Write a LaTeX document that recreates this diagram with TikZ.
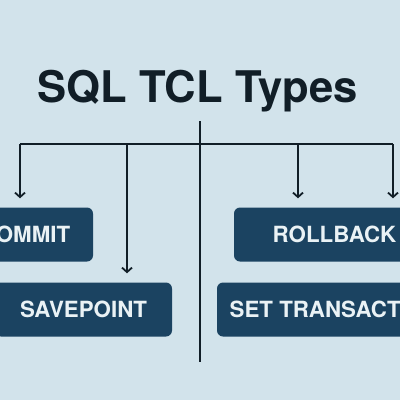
\documentclass[tikz,border=0pt]{standalone}
\usepackage{fontspec}
\setmainfont{TeX Gyre Heros}
\usetikzlibrary{arrows.meta}
\definecolor{bgc}{HTML}{D2E3EB}
\definecolor{boxc}{HTML}{1B4361}
\definecolor{linec}{HTML}{111E27}
\definecolor{txtc}{HTML}{EAF2F5}
\tikzset{
  tclbox/.style={fill=boxc, rounded corners=6pt, text=txtc, inner sep=0pt,
    minimum height=54pt, font=\fontsize{22.3}{26}\selectfont\bfseries},
  conn/.style={draw=linec, line width=2pt},
  arr/.style={conn, -{Straight Barb[length=4.5pt,width=10pt,line width=1.8pt]}, shorten >=9pt},
}
\begin{document}
\begin{tikzpicture}[x=1pt,y=-1pt]
\fill[bgc] (0,0) rectangle (400,400);
\useasboundingbox (0,0) rectangle (400,400);
\node[anchor=base, text=linec, font=\fontsize{43.6}{50}\selectfont\bfseries] (title) at (197.5,102) {SQL TCL Types};
\node[tclbox, minimum width=136pt] (commit) at (25,234.5) {COMMIT};
\node[tclbox, minimum width=177pt] (savepoint) at (83.5,309.5) {SAVEPOINT};
\node[tclbox, minimum width=201pt] (rollback) at (334.5,234.5) {ROLLBACK};
\node[tclbox, minimum width=236pt] (settrans) at (335,309.5) {SET TRANSACTION};
\coordinate (top) at (200,121);
\coordinate (bot) at (200,362);
\coordinate (j1) at (20,144);
\coordinate (j2) at (127,144);
\coordinate (j3) at (298,144);
\coordinate (j4) at (393,144);
\draw[conn] (top) -- (bot);
\draw[conn] (j1) -- (j4);
\draw[arr] (j1) -- (j1 |- commit.north);
\draw[arr] (j2) -- (j2 |- savepoint.north);
\draw[arr] (j3) -- (j3 |- rollback.north);
\draw[arr] (j4) -- (j4 |- rollback.north);
\end{tikzpicture}
\end{document}
